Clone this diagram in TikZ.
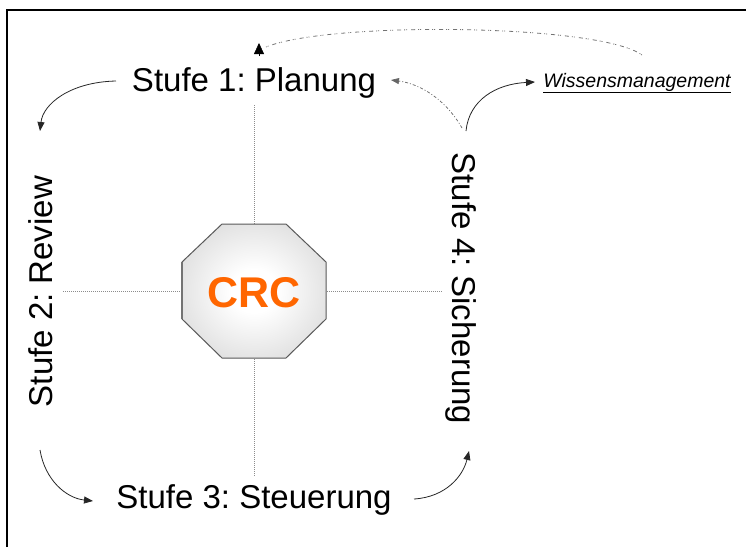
\documentclass[tikz,border=0pt]{standalone}
\usepackage{fontspec}
\setmainfont{Liberation Sans}
\usetikzlibrary{arrows.meta}
\frenchspacing
\definecolor{crcorange}{HTML}{FF6600}
\pgfdeclareradialshading{octshade}{\pgfpoint{0bp}{0bp}}{%
  color(0bp)=(white); color(8bp)=(white); color(34bp)=(black!16); color(50bp)=(black!16)}
\begin{document}
\begin{tikzpicture}[x=1pt,y=-1pt,
  stage/.style={font=\fontsize{33}{36}\selectfont, inner sep=0pt, anchor=base},
  flow/.style={line width=0.8pt, black!85, -{Triangle[length=9pt,width=7pt]}},
  backflow/.style={line width=0.7pt, black!60, dash pattern=on 3pt off 2pt on 1pt off 2pt, -{Triangle[length=8pt,width=6pt]}},
  cross/.style={line width=0.6pt, black!45, dash pattern=on 1pt off 1pt}]
  \useasboundingbox (0,0) rectangle (746,547);
  % frame
  \draw[line width=2pt] (7,547) -- (7,10) -- (746,10);

  % dotted cross behind the octagon
  \coordinate (vt) at (254,105);
  \coordinate (vb) at (254,477);
  \coordinate (hl) at (63,291);
  \coordinate (hr) at (442,291);
  \draw[cross] (vt) -- (vb);
  \draw[cross] (hl) -- (hr);

  % octagon with CRC
  \coordinate (o1) at (222,224); \coordinate (o2) at (286,224);
  \coordinate (o3) at (326,262); \coordinate (o4) at (326,319);
  \coordinate (o5) at (286,358); \coordinate (o6) at (222,358);
  \coordinate (o7) at (182,319); \coordinate (o8) at (182,262);
  \shade[shading=octshade] (o1) -- (o2) -- (o3) -- (o4) -- (o5) -- (o6) -- (o7) -- (o8) -- cycle;
  \draw[line width=1pt, black!65, line join=miter] (o1) -- (o2) -- (o3) -- (o4) -- (o5) -- (o6) -- (o7) -- (o8) -- cycle;
  \draw[line width=2pt, black!55] (o7) -- (o8);
  \node[font=\fontsize{43}{46}\selectfont\bfseries, text=crcorange, inner sep=0pt, anchor=base] (crc) at (254,307) {CRC};

  % stage labels
  \node[stage] (s1) at (254,91) {Stufe 1: Planung};
  \node[stage, rotate=90] (s2) at (52,291.5) {Stufe 2: Review};
  \node[stage] (s3) at (254,508) {Stufe 3: Steuerung};
  \node[stage, rotate=-90] (s4) at (452,288.5) {Stufe 4: Sicherung};
  \node[font=\fontsize{19.5}{22}\selectfont\itshape, inner sep=0pt, anchor=base] (wm) at (637,87) {\underline{Wissensmanagement}};

  % cycle arrows
  \coordinate (a1s) at (116,81);  \coordinate (a1e) at (40,131);
  \coordinate (a2s) at (40,450);  \coordinate (a2e) at (93,501);
  \coordinate (a3s) at (414,499); \coordinate (a3e) at (469,451);
  \coordinate (a4s) at (466,131); \coordinate (a4e) at (535,82);
  \coordinate (a5s) at (462,128); \coordinate (a5e) at (391,80);
  \draw[flow] (a1s) .. controls (70,82) and (43,104) .. (a1e);
  \draw[flow] (a2s) .. controls (45,480) and (66,498) .. (a2e);
  \draw[flow] (a3s) .. controls (446,497) and (463,476) .. (a3e);
  \draw[flow] (a4s) .. controls (469,100) and (496,84) .. (a4e);
  \draw[backflow] (a5s) .. controls (446,100) and (421,84) .. (a5e);

  % knowledge feedback arc back to planning
  \coordinate (k1) at (642,55);
  \coordinate (k2) at (266,47);
  \coordinate (kt) at (259,43);
  \draw[line width=0.8pt, black!55, dash pattern=on 1pt off 1pt on 1pt off 3pt on 4pt off 4pt] (k1) .. controls (600,24) and (330,21) .. (k2);
  \draw[line width=0.5pt, -{Triangle[length=11pt,width=10pt]}] (259,56) -- (kt);
\end{tikzpicture}
\end{document}
